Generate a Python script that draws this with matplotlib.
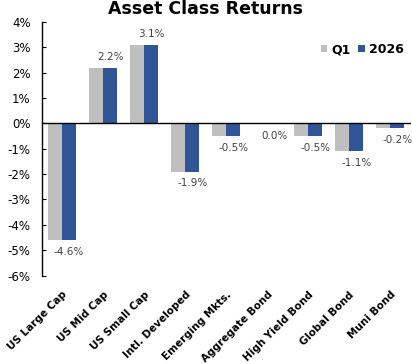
import matplotlib
matplotlib.use("Agg")
import matplotlib.pyplot as plt
import numpy as np

categories = ["US Large Cap", "US Mid Cap", "US Small Cap", "Intl. Developed",
              "Emerging Mkts.", "Aggregate Bond", "High Yield Bond", "Global Bond", "Muni Bond"]
q1_values = [-4.6, 2.2, 3.1, -1.9, -0.5, -0.04, -0.5, -1.1, -0.2]
y2026_values = [-4.6, 2.2, 3.1, -1.9, -0.5, -0.04, -0.5, -1.1, -0.2]
y_ticks = [4, 3, 2, 1, 0, -1, -2, -3, -4, -5, -6]
series_names = ["Q1", "2026"]

GRAY = "#BFBFBF"
BLUE = "#2F5597"

fig = plt.figure(figsize=(4.12, 3.64), dpi=100)
ax = fig.add_axes([0.101, 0.243, 0.896, 0.697])

x = np.arange(len(categories))
w = 0.34
ax.bar(x - w / 2, q1_values, width=w, color=GRAY, label=series_names[0])
ax.bar(x + w / 2, y2026_values, width=w, color=BLUE, label=series_names[1])


def fmt(v):
    s = f"{v:.1f}%"
    return "0.0%" if s == "-0.0%" else s


for xi, v in zip(x, y2026_values):
    if v >= 0:
        ax.annotate(fmt(v), (xi + w / 2, v), xytext=(0, 4), textcoords="offset points",
                    ha="center", va="bottom", fontsize=7.5, color="#404040")
    else:
        ax.annotate(fmt(v), (xi + w / 2, v), xytext=(0, -5), textcoords="offset points",
                    ha="center", va="top", fontsize=7.5, color="#404040")

ax.set_xlim(-0.5, len(categories) - 0.5)
ax.set_ylim(-6, 4)
ax.set_yticks(y_ticks)
ax.set_yticklabels([f"{t}%" for t in y_ticks], fontsize=8.5)
ax.axhline(0, color="black", linewidth=1)

for s in ["top", "right", "bottom"]:
    ax.spines[s].set_visible(False)
ax.spines["left"].set_linewidth(1)
ax.tick_params(axis="y", direction="in", length=3, pad=8)
ax.set_xticks(x)
ax.set_xticklabels(categories, rotation=45, ha="right", rotation_mode="anchor",
                   fontsize=7.5, fontweight="bold")
ax.tick_params(axis="x", length=0, pad=10)

fig.text(0.5, 0.975, "Asset Class Returns", ha="center", va="center",
         fontsize=12.5, fontweight="bold")

leg = ax.legend(loc="upper right", bbox_to_anchor=(1.012, 0.96), frameon=False,
                ncol=2, handlelength=0.5, handleheight=0.5, handletextpad=0.35,
                columnspacing=0.6, prop={"weight": "bold", "size": 9})

fig.savefig("out.png", dpi=100)
